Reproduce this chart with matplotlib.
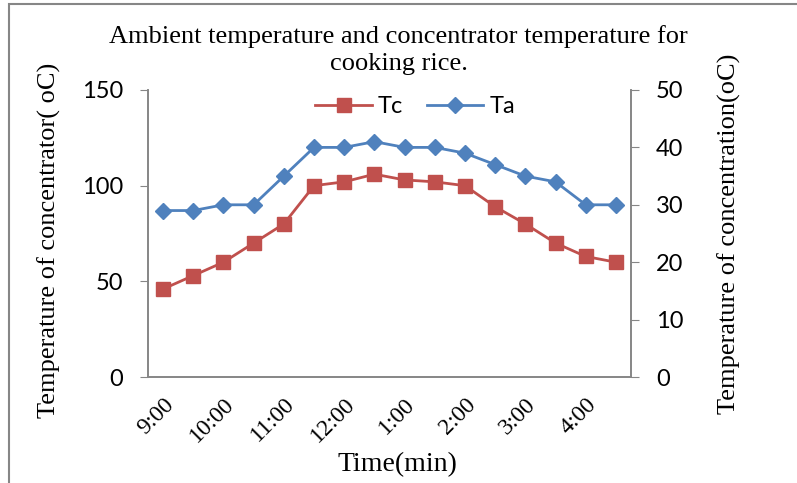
import matplotlib.pyplot as plt
import numpy as np
from matplotlib.patches import Rectangle

# data
times = ["9:00", "9:30", "10:00", "10:30", "11:00", "11:30", "12:00", "12:30",
         "1:00", "1:30", "2:00", "2:30", "3:00", "3:30", "4:00", "4:30"]
tc = [46, 53, 60, 70, 80, 100, 102, 106, 103, 102, 100, 89, 80, 70, 63, 60]
ta = [29, 29, 30, 30, 35, 40, 40, 41, 40, 40, 39, 37, 35, 34, 30, 30]

serif = "Liberation Serif"
sans = "Lato"
gray = "#868686"

fig = plt.figure(figsize=(7.97, 4.83), dpi=100)
ax = fig.add_axes([148 / 797, 1 - 377 / 483, (631 - 148) / 797, (377 - 90) / 483])
ax2 = ax.twinx()

x = np.arange(len(times))
l1, = ax.plot(x, tc, color="#C0504D", marker="s", markersize=10, linewidth=2, label="Tc")
l2, = ax2.plot(x, ta, color="#4F81BD", marker="D", markersize=8, linewidth=2, label="Ta")

ax.set_xlim(-0.5, len(times) - 0.5)
ax.set_ylim(0, 150)
ax2.set_ylim(0, 50)
ax.set_yticks([0, 50, 100, 150])
ax2.set_yticks([0, 10, 20, 30, 40, 50])

ax.set_xticks(x[::2])
ax.set_xticklabels(times[::2], rotation=45, ha="right", rotation_mode="anchor",
                   fontfamily=serif, fontsize=17)
ax.tick_params(axis="x", length=0, pad=12)
ax.tick_params(axis="y", length=6, color=gray, labelsize=17, pad=12)
ax2.tick_params(axis="y", length=6, color=gray, labelsize=17, pad=12)
for lab in ax.get_yticklabels() + ax2.get_yticklabels():
    lab.set_fontfamily(sans)

for a in (ax, ax2):
    a.spines["top"].set_visible(False)
    for s in ("left", "right", "bottom"):
        a.spines[s].set_color(gray)
        a.spines[s].set_linewidth(1.2)

ax.set_ylabel("Temperature of concentrator( oC)", fontfamily=serif, fontsize=19)
ax.yaxis.set_label_coords(-0.18, 0.477)
ax2.set_ylabel("Temperature of concentration(oC)", fontfamily=serif, fontsize=19)
ax2.yaxis.set_label_coords(1.18, 0.5)
ax.set_xlabel("Time(min)", fontfamily=serif, fontsize=20)
ax.xaxis.set_label_coords(0.516, -0.262)

fig.text(0.5, 1 - 50 / 483, "Ambient temperature and concentrator temperature for\ncooking rice.",
         ha="center", va="center", fontfamily=serif, fontsize=19, linespacing=1.3)

ax2.legend([l1, l2], ["Tc", "Ta"], loc="center", bbox_to_anchor=((415 - 148) / 483, (377 - 107) / 287),
           ncol=2, frameon=False, prop={"family": sans, "size": 17},
           handlelength=2.4, handletextpad=0.25, columnspacing=1.0)

fig.add_artist(Rectangle((9 / 797, -0.1), 1.2, 1.1 - 4 / 483, transform=fig.transFigure,
                         fill=False, edgecolor=gray, linewidth=1.5))

fig.savefig("out.png", dpi=100)
